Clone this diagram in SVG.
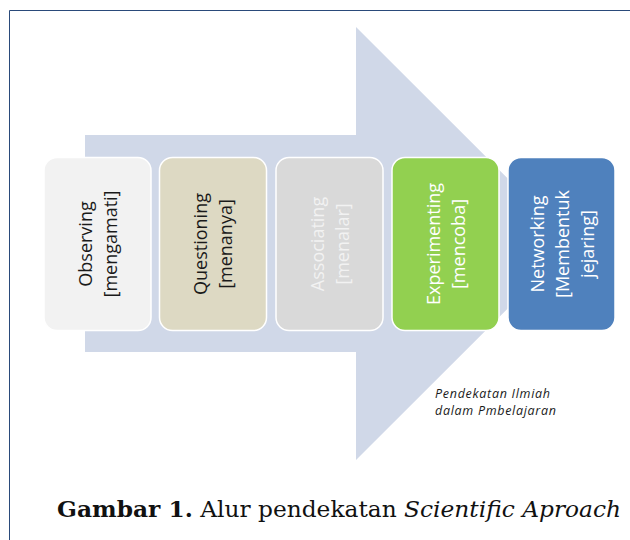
<svg xmlns="http://www.w3.org/2000/svg" width="630" height="540" viewBox="0 0 630 540">
<style>
.box{stroke:#ffffff;stroke-width:1.5}
.lbl{font-family:"Open Sans","Liberation Sans",sans-serif;font-size:18px;text-anchor:middle}
.note{font-family:"Open Sans","Liberation Sans",sans-serif;font-size:12.5px;font-style:italic;fill:#1a1a1a}
.cap{font-family:"DejaVu Serif","Liberation Serif",serif;font-size:22px;fill:#111}
</style>
<rect x="0" y="0" width="630" height="540" fill="#ffffff"/>
<path d="M9.5,540 V10.5 H630" fill="none" stroke="#2a4a7a" stroke-width="1"/>
<g id="arrow">
<path d="M85,135 H356 V27 L573,243.5 L356,460 V352 H85 Z" fill="#d0d8e8"/>
</g>
<g id="observing">
<rect class="box" x="44" y="157.5" width="107" height="173" rx="13" fill="#f2f2f2"/>
<text class="lbl" transform="translate(97.5,244) rotate(-90)" fill="#1a1a1a"><tspan x="0" y="-6">Observing</tspan><tspan x="0" y="19">[mengamati]</tspan></text>
</g>
<g id="questioning">
<rect class="box" x="159.5" y="157.5" width="107" height="173" rx="13" fill="#ddd9c3"/>
<text class="lbl" transform="translate(213,244) rotate(-90)" fill="#1a1a1a"><tspan x="0" y="-6">Questioning</tspan><tspan x="0" y="19">[menanya]</tspan></text>
</g>
<g id="associating">
<rect class="box" x="276" y="157.5" width="107" height="173" rx="13" fill="#d9d9d9"/>
<text class="lbl" transform="translate(329.5,244) rotate(-90)" fill="#f2f2f2"><tspan x="0" y="-6">Associating</tspan><tspan x="0" y="19">[menalar]</tspan></text>
</g>
<g id="experimenting">
<rect class="box" x="392" y="157.5" width="107" height="173" rx="13" fill="#92d050"/>
<text class="lbl" transform="translate(445.5,244) rotate(-90)" fill="#ffffff"><tspan x="0" y="-6">Experimenting</tspan><tspan x="0" y="19">[mencoba]</tspan></text>
</g>
<g id="networking">
<rect class="box" x="508" y="157.5" width="107" height="173" rx="13" fill="#4f81bd"/>
<text class="lbl" transform="translate(561.5,244) rotate(-90)" fill="#ffffff"><tspan x="0" y="-18">Networking</tspan><tspan x="0" y="7">[Membentuk</tspan><tspan x="0" y="32">jejaring]</tspan></text>
</g>
<g id="connectors"></g>
<text class="note" x="435" y="398" textLength="115" lengthAdjust="spacing">Pendekatan Ilmiah</text>
<text class="note" x="435" y="415" textLength="121" lengthAdjust="spacing">dalam Pmbelajaran</text>
<text class="cap" x="57" y="517" textLength="564" lengthAdjust="spacingAndGlyphs"><tspan font-weight="bold">Gambar 1.</tspan> Alur pendekatan <tspan font-style="italic">Scientific Aproach</tspan></text>
</svg>
